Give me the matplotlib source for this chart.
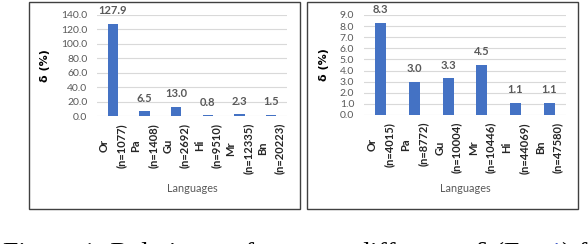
import matplotlib
matplotlib.use("Agg")
import matplotlib.pyplot as plt
from matplotlib.patches import Rectangle

plt.rcParams["font.family"] = ["Lato", "DejaVu Sans"]

# Left chart
left_langs = ["Or", "Pa", "Gu", "Hi", "Mr", "Bn"]
left_counts = [1077, 1408, 2692, 9510, 12335, 20223]
left_delta = [127.9, 6.5, 13.0, 0.8, 2.3, 1.5]
left_ticks = [0, 20, 40, 60, 80, 100, 120, 140]

# Right chart
right_langs = ["Or", "Pa", "Gu", "Mr", "Hi", "Bn"]
right_counts = [4015, 8772, 10004, 10446, 44069, 47580]
right_delta = [8.3, 3.0, 3.3, 4.5, 1.1, 1.1]
right_ticks = [0, 1, 2, 3, 4, 5, 6, 7, 8, 9]

BAR = "#4472C4"
GRAY = "#595959"
GRID = "#D9D9D9"

W, H = 588, 244
PT = 0.72  # points per pixel at dpi 100
fig = plt.figure(figsize=(W / 100, H / 100), dpi=100, facecolor="white")
renderer = fig.canvas.get_renderer()


def px_box(x0, y0, x1, y1):
    # pixel coords (top-left origin) -> figure fraction rect
    return [x0 / W, (H - y1) / H, (x1 - x0) / W, (y1 - y0) / H]


def draw_panel(rect, langs, counts, values, ticks, frame):
    fig.patches.append(Rectangle((frame[0] / W, (H - frame[3]) / H),
                                 (frame[2] - frame[0]) / W, (frame[3] - frame[1]) / H,
                                 transform=fig.transFigure, fill=False,
                                 edgecolor="#404040", linewidth=1.0))
    ax = fig.add_axes(rect)
    x = list(range(len(langs)))
    ax.bar(x, values, width=0.33, color=BAR, zorder=3)
    ax.set_xlim(-0.5, len(langs) - 0.5)
    ax.set_ylim(ticks[0], ticks[-1])
    ax.set_yticks(ticks)
    ax.yaxis.set_major_formatter(plt.FuncFormatter(lambda v, _: f"{v:.1f}"))
    ax.grid(True, axis="y", color=GRID, linewidth=0.8, zorder=0)
    for spine in ax.spines.values():
        spine.set_visible(False)
    ax.tick_params(axis="both", length=0)
    ax.tick_params(axis="y", colors=GRAY, labelsize=7.5, pad=7)
    ax.set_xticks(x)
    ax.set_xticklabels([])

    # two-line rotated category labels: block top-aligned, lines centred on each other
    lbl = dict(xycoords=("data", "axes fraction"), textcoords="offset points",
               rotation=90, ha="center", fontsize=8, fontweight="bold", color="#262626")
    for xi, lang, cnt in zip(x, langs, counts):
        long_t = ax.annotate(f"(n={cnt})", (xi, 0), xytext=(8.5 * PT, -7 * PT),
                             va="top", **lbl)
        h = long_t.get_window_extent(renderer).height
        ax.annotate(lang, (xi, 0), xytext=(-8.5 * PT, -(7 + h / 2) * PT),
                    va="center", **lbl)

    ax.set_ylabel("δ (%)", fontsize=8, fontweight="bold", color="#000000",
                  family=["DejaVu Sans"], labelpad=8)
    bottom_px = H - rect[1] * H
    ax.text(0.5, -(188 - bottom_px) / (rect[3] * H), "Languages",
            transform=ax.transAxes, ha="center", va="center", fontsize=7.8, color=GRAY)
    for xi, v in zip(x, values):
        ax.annotate(f"{v:.1f}", (xi, v), xytext=(0, 9.5), textcoords="offset points",
                    ha="center", va="center", fontsize=8, fontweight="bold", color=GRAY)
    return ax


ax1 = draw_panel(px_box(97, 15, 287, 116), left_langs, left_counts, left_delta,
                 left_ticks, (29, 2, 300, 209))
ax2 = draw_panel(px_box(364, 15, 566, 115), right_langs, right_counts, right_delta,
                 right_ticks, (307, 2, 578, 209))

# Caption, cut off by the bottom edge like in the source
pieces = [("Figure 1: Relative performance difference δ (Eq. ", "black"),
          ("1", "#1F3FBF"), (") f", "black")]
probe = fig.text(0, 0, "".join(p[0] for p in pieces), fontsize=10,
                 family=["Liberation Serif", "DejaVu Serif"])
w10 = probe.get_window_extent(renderer).width
probe.remove()
fs = 10 * 585 / w10
base_y = 243 + 0.66 * fs * 100 / 72
xpos = 3
for txt, col in pieces:
    t = fig.text(xpos / W, (H - base_y) / H, txt, fontsize=fs, color=col,
                 family=["Liberation Serif", "DejaVu Serif"], va="baseline", ha="left")
    xpos += t.get_window_extent(renderer).width

fig.savefig("out.png", dpi=100, facecolor="white")
